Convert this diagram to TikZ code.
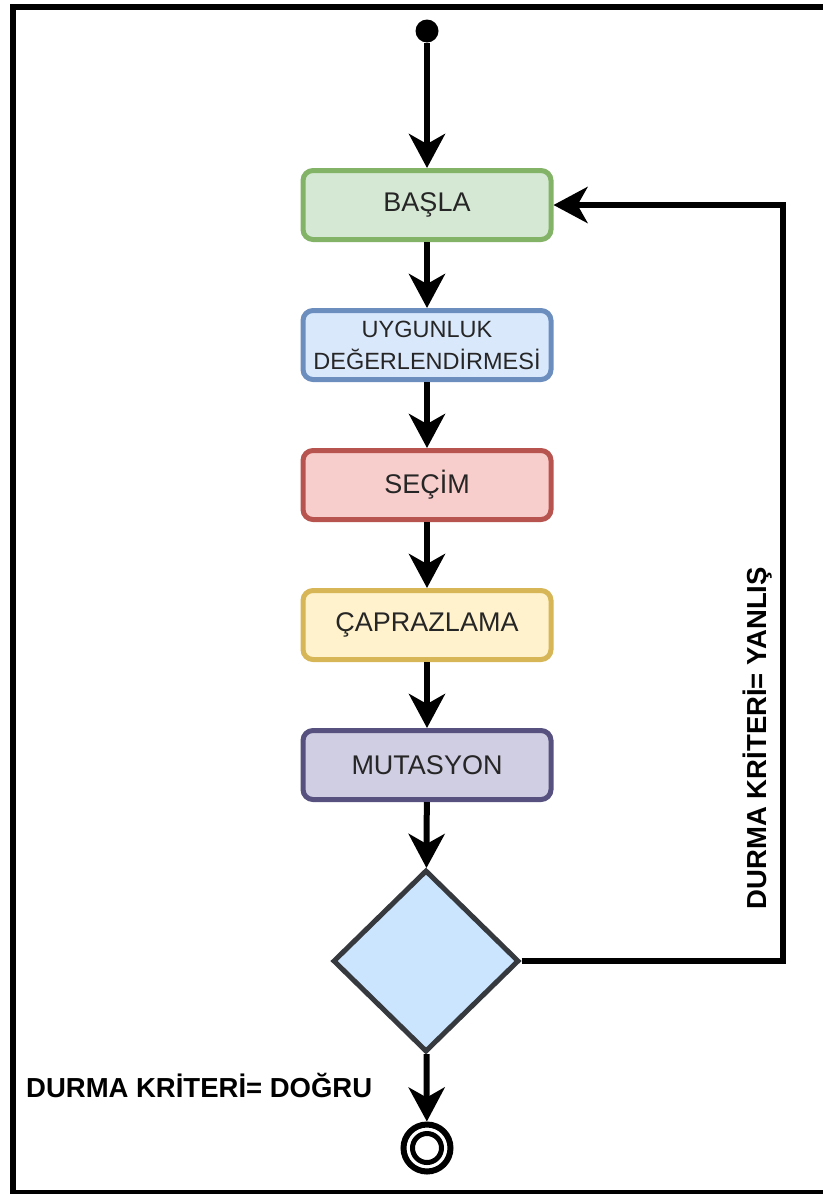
\documentclass[tikz,border=0pt]{standalone}
\usepackage{fontspec}
\setmainfont{Liberation Sans}
\usetikzlibrary{shapes.geometric,arrows.meta}

\definecolor{textgray}{HTML}{262626}
\definecolor{greenfill}{HTML}{D5E8D4}\definecolor{greenline}{HTML}{82B366}
\definecolor{bluefill}{HTML}{DAE8FC}\definecolor{blueline}{HTML}{6C8EBF}
\definecolor{redfill}{HTML}{F8CECC}\definecolor{redline}{HTML}{B85450}
\definecolor{yellowfill}{HTML}{FFF2CC}\definecolor{yellowline}{HTML}{D6B656}
\definecolor{purplefill}{HTML}{D0CEE2}\definecolor{purpleline}{HTML}{56517E}
\definecolor{decfill}{HTML}{CCE5FF}\definecolor{decline}{HTML}{36393D}

\tikzset{
  stepbox/.style={rectangle, rounded corners=10pt, line width=5pt,
    minimum width=248pt, minimum height=69pt, inner sep=0pt,
    text=textgray, font=\fontsize{27}{30}\selectfont},
  flow/.style={line width=6pt, line join=miter,
    -{Stealth[length=34pt, width=36pt, inset=10pt]}},
  lbl/.style={font=\fontsize{27.5}{30}\selectfont\bfseries, text=black, inner sep=0pt},
}

\begin{document}
\begin{tikzpicture}[x=1pt, y=-1pt]
  \useasboundingbox (0,0) rectangle (822,1194);
  % frame around the diagram (its right side lies off the page)
  \draw[line width=6pt] (830,7) -- (13,7) -- (13,1193) -- (830,1193);

  % start and end markers
  \node[circle, fill=black, inner sep=0pt, minimum size=23pt] (start) at (427,31) {};
  \node[circle, draw=black, line width=6pt, inner sep=0pt, minimum size=47pt] (stop) at (427,1148) {};
  \draw[line width=5pt] (stop.center) circle[radius=14.5pt];

  % process steps
  \node[stepbox, fill=greenfill, draw=greenline] (basla) at (427,205) {BAŞLA};
  \node[stepbox, fill=bluefill, draw=blueline, align=center,
        font=\fontsize{23.5}{32}\selectfont] (uygun) at (427,345) {UYGUNLUK\\DEĞERLENDİRMESİ};
  \node[stepbox, fill=redfill, draw=redline] (secim) at (427,485) {SEÇİM};
  \node[stepbox, fill=yellowfill, draw=yellowline] (capraz) at (427,625) {ÇAPRAZLAMA};
  \node[stepbox, fill=purplefill, draw=purpleline] (mutasyon) at (427,765) {MUTASYON};

  % decision
  \node[diamond, fill=decfill, draw=decline, line width=5pt, inner sep=0pt,
        minimum width=186pt, minimum height=182pt] (dec) at (426,961) {};

  % main flow
  \draw[flow] (start) -- (basla);
  \draw[flow] (basla) -- (uygun);
  \draw[flow] (uygun) -- (secim);
  \draw[flow] (secim) -- (capraz);
  \draw[flow] (capraz) -- (mutasyon);
  \draw[flow] (mutasyon) -- (dec);
  \draw[flow] (dec) -- (stop);

  % loop back while the stop criterion is false
  \coordinate (turn) at (783,962);
  \draw[flow] (dec.east) -- (dec.east -| turn) |- (basla.east);

  % branch labels
  \node[lbl, anchor=base west] (dogru) at (26,1097) {DURMA KRİTERİ= DOĞRU};
  \node[lbl, rotate=90] (yanlis) at (758,738) {DURMA KRİTERİ= YANLIŞ};
\end{tikzpicture}
\end{document}
